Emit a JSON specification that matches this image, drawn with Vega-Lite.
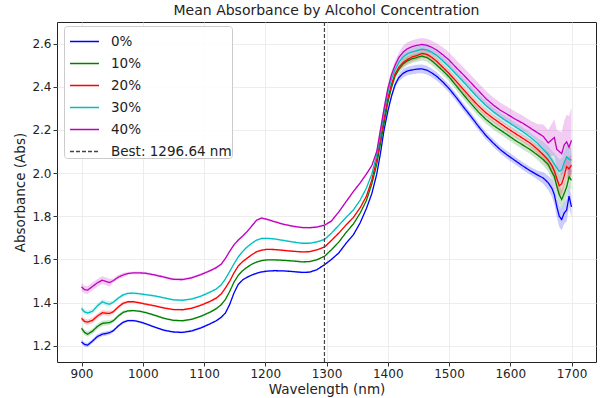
{
"$schema":"https://vega.github.io/schema/vega-lite/v6.json",
"width":539,"height":340,
"autosize":{"type":"none"},
"padding":{"left":57,"top":22,"right":6,"bottom":36},
"background":"white",
"title":{"text":"Mean Absorbance by Alcohol Concentration","fontSize":14,"font":"DejaVu Sans","fontWeight":"normal","offset":3,"anchor":"middle","color":"#222"},
"config":{
 "view":{"stroke":"#222","strokeWidth":1},
 "axis":{"labelFont":"DejaVu Sans","titleFont":"DejaVu Sans","labelFontSize":12,"titleFontSize":13.5,"titleFontWeight":"normal","labelColor":"#222","titleColor":"#222","tickColor":"#333","tickSize":4,"gridColor":"#e8e8e8","gridWidth":0.8,"domain":false},
 "legend":{"labelFont":"DejaVu Sans"}
},
"datasets":{"spec":[
{"w":900,"b":1.218,"bl":1.208,"bh":1.228,"g":1.281,"gl":1.269,"gh":1.293,"r":1.327,"rl":1.315,"rh":1.339,"c":1.373,"cl":1.361,"ch":1.385,"m":1.473,"ml":1.455,"mh":1.491},
{"w":905,"b":1.206,"bl":1.196,"bh":1.216,"g":1.262,"gl":1.250,"gh":1.274,"r":1.313,"rl":1.301,"rh":1.325,"c":1.357,"cl":1.345,"ch":1.369,"m":1.460,"ml":1.442,"mh":1.478},
{"w":910,"b":1.203,"bl":1.193,"bh":1.213,"g":1.254,"gl":1.242,"gh":1.266,"r":1.310,"rl":1.298,"rh":1.322,"c":1.352,"cl":1.340,"ch":1.364,"m":1.458,"ml":1.440,"mh":1.476},
{"w":918,"b":1.222,"bl":1.212,"bh":1.232,"g":1.268,"gl":1.256,"gh":1.280,"r":1.318,"rl":1.306,"rh":1.330,"c":1.360,"cl":1.348,"ch":1.372,"m":1.475,"ml":1.457,"mh":1.493},
{"w":926,"b":1.243,"bl":1.233,"bh":1.253,"g":1.290,"gl":1.278,"gh":1.302,"r":1.338,"rl":1.326,"rh":1.350,"c":1.385,"cl":1.373,"ch":1.397,"m":1.492,"ml":1.474,"mh":1.510},
{"w":934,"b":1.254,"bl":1.244,"bh":1.264,"g":1.304,"gl":1.292,"gh":1.316,"r":1.353,"rl":1.341,"rh":1.365,"c":1.404,"cl":1.392,"ch":1.416,"m":1.504,"ml":1.486,"mh":1.522},
{"w":940,"b":1.257,"bl":1.247,"bh":1.267,"g":1.306,"gl":1.294,"gh":1.318,"r":1.351,"rl":1.339,"rh":1.363,"c":1.397,"cl":1.385,"ch":1.409,"m":1.498,"ml":1.480,"mh":1.516},
{"w":946,"b":1.261,"bl":1.251,"bh":1.271,"g":1.308,"gl":1.296,"gh":1.320,"r":1.350,"rl":1.338,"rh":1.362,"c":1.393,"cl":1.381,"ch":1.405,"m":1.493,"ml":1.475,"mh":1.511},
{"w":952,"b":1.270,"bl":1.263,"bh":1.277,"g":1.316,"gl":1.308,"gh":1.324,"r":1.358,"rl":1.350,"rh":1.366,"c":1.402,"cl":1.394,"ch":1.410,"m":1.502,"ml":1.492,"mh":1.512},
{"w":960,"b":1.292,"bl":1.285,"bh":1.299,"g":1.338,"gl":1.330,"gh":1.346,"r":1.380,"rl":1.372,"rh":1.388,"c":1.421,"cl":1.413,"ch":1.429,"m":1.518,"ml":1.508,"mh":1.528},
{"w":968,"b":1.309,"bl":1.302,"bh":1.316,"g":1.355,"gl":1.347,"gh":1.363,"r":1.397,"rl":1.389,"rh":1.405,"c":1.436,"cl":1.428,"ch":1.444,"m":1.528,"ml":1.518,"mh":1.538},
{"w":976,"b":1.317,"bl":1.312,"bh":1.322,"g":1.362,"gl":1.357,"gh":1.367,"r":1.404,"rl":1.399,"rh":1.409,"c":1.443,"cl":1.438,"ch":1.448,"m":1.535,"ml":1.529,"mh":1.541},
{"w":985,"b":1.317,"bl":1.312,"bh":1.322,"g":1.363,"gl":1.358,"gh":1.368,"r":1.404,"rl":1.399,"rh":1.409,"c":1.444,"cl":1.439,"ch":1.449,"m":1.538,"ml":1.532,"mh":1.544},
{"w":995,"b":1.311,"bl":1.306,"bh":1.316,"g":1.360,"gl":1.355,"gh":1.365,"r":1.399,"rl":1.394,"rh":1.404,"c":1.441,"cl":1.436,"ch":1.446,"m":1.538,"ml":1.532,"mh":1.544},
{"w":1005,"b":1.302,"bl":1.297,"bh":1.307,"g":1.354,"gl":1.349,"gh":1.359,"r":1.393,"rl":1.388,"rh":1.398,"c":1.437,"cl":1.432,"ch":1.442,"m":1.536,"ml":1.530,"mh":1.542},
{"w":1020,"b":1.286,"bl":1.281,"bh":1.291,"g":1.341,"gl":1.336,"gh":1.346,"r":1.385,"rl":1.380,"rh":1.390,"c":1.431,"cl":1.426,"ch":1.436,"m":1.528,"ml":1.522,"mh":1.534},
{"w":1035,"b":1.272,"bl":1.267,"bh":1.277,"g":1.327,"gl":1.322,"gh":1.332,"r":1.375,"rl":1.370,"rh":1.380,"c":1.422,"cl":1.417,"ch":1.427,"m":1.518,"ml":1.512,"mh":1.524},
{"w":1050,"b":1.264,"bl":1.259,"bh":1.269,"g":1.318,"gl":1.313,"gh":1.323,"r":1.368,"rl":1.363,"rh":1.373,"c":1.413,"cl":1.408,"ch":1.418,"m":1.508,"ml":1.502,"mh":1.514},
{"w":1065,"b":1.262,"bl":1.257,"bh":1.267,"g":1.316,"gl":1.311,"gh":1.321,"r":1.367,"rl":1.362,"rh":1.372,"c":1.411,"cl":1.406,"ch":1.416,"m":1.507,"ml":1.501,"mh":1.513},
{"w":1080,"b":1.269,"bl":1.264,"bh":1.274,"g":1.323,"gl":1.318,"gh":1.328,"r":1.374,"rl":1.369,"rh":1.379,"c":1.417,"cl":1.412,"ch":1.422,"m":1.515,"ml":1.509,"mh":1.521},
{"w":1095,"b":1.283,"bl":1.278,"bh":1.288,"g":1.337,"gl":1.332,"gh":1.342,"r":1.388,"rl":1.383,"rh":1.393,"c":1.430,"cl":1.425,"ch":1.435,"m":1.530,"ml":1.524,"mh":1.536},
{"w":1110,"b":1.302,"bl":1.297,"bh":1.307,"g":1.356,"gl":1.351,"gh":1.361,"r":1.406,"rl":1.401,"rh":1.411,"c":1.449,"cl":1.444,"ch":1.454,"m":1.548,"ml":1.542,"mh":1.554},
{"w":1120,"b":1.316,"bl":1.311,"bh":1.321,"g":1.372,"gl":1.367,"gh":1.377,"r":1.421,"rl":1.416,"rh":1.426,"c":1.463,"cl":1.458,"ch":1.468,"m":1.562,"ml":1.556,"mh":1.568},
{"w":1128,"b":1.332,"bl":1.327,"bh":1.337,"g":1.390,"gl":1.385,"gh":1.395,"r":1.440,"rl":1.435,"rh":1.445,"c":1.482,"cl":1.477,"ch":1.487,"m":1.578,"ml":1.572,"mh":1.584},
{"w":1135,"b":1.352,"bl":1.348,"bh":1.356,"g":1.415,"gl":1.411,"gh":1.419,"r":1.468,"rl":1.464,"rh":1.472,"c":1.510,"cl":1.506,"ch":1.514,"m":1.605,"ml":1.600,"mh":1.610},
{"w":1142,"b":1.392,"bl":1.388,"bh":1.396,"g":1.452,"gl":1.448,"gh":1.456,"r":1.500,"rl":1.496,"rh":1.504,"c":1.545,"cl":1.541,"ch":1.549,"m":1.638,"ml":1.633,"mh":1.643},
{"w":1149,"b":1.445,"bl":1.441,"bh":1.449,"g":1.495,"gl":1.491,"gh":1.499,"r":1.538,"rl":1.534,"rh":1.542,"c":1.580,"cl":1.576,"ch":1.584,"m":1.668,"ml":1.663,"mh":1.673},
{"w":1156,"b":1.485,"bl":1.481,"bh":1.489,"g":1.527,"gl":1.523,"gh":1.531,"r":1.570,"rl":1.566,"rh":1.574,"c":1.612,"cl":1.608,"ch":1.616,"m":1.690,"ml":1.685,"mh":1.695},
{"w":1163,"b":1.505,"bl":1.501,"bh":1.509,"g":1.548,"gl":1.544,"gh":1.552,"r":1.590,"rl":1.586,"rh":1.594,"c":1.637,"cl":1.633,"ch":1.641,"m":1.708,"ml":1.703,"mh":1.713},
{"w":1170,"b":1.517,"bl":1.513,"bh":1.521,"g":1.563,"gl":1.559,"gh":1.567,"r":1.605,"rl":1.601,"rh":1.609,"c":1.657,"cl":1.653,"ch":1.661,"m":1.728,"ml":1.723,"mh":1.733},
{"w":1178,"b":1.528,"bl":1.524,"bh":1.532,"g":1.578,"gl":1.574,"gh":1.582,"r":1.622,"rl":1.618,"rh":1.626,"c":1.675,"cl":1.671,"ch":1.679,"m":1.755,"ml":1.750,"mh":1.760},
{"w":1186,"b":1.536,"bl":1.532,"bh":1.540,"g":1.588,"gl":1.584,"gh":1.592,"r":1.636,"rl":1.632,"rh":1.640,"c":1.690,"cl":1.686,"ch":1.694,"m":1.782,"ml":1.777,"mh":1.787},
{"w":1194,"b":1.542,"bl":1.538,"bh":1.546,"g":1.595,"gl":1.591,"gh":1.599,"r":1.643,"rl":1.639,"rh":1.647,"c":1.697,"cl":1.693,"ch":1.701,"m":1.792,"ml":1.787,"mh":1.797},
{"w":1203,"b":1.546,"bl":1.542,"bh":1.550,"g":1.598,"gl":1.594,"gh":1.602,"r":1.647,"rl":1.643,"rh":1.651,"c":1.698,"cl":1.694,"ch":1.702,"m":1.786,"ml":1.781,"mh":1.791},
{"w":1215,"b":1.548,"bl":1.544,"bh":1.552,"g":1.598,"gl":1.594,"gh":1.602,"r":1.646,"rl":1.642,"rh":1.650,"c":1.695,"cl":1.691,"ch":1.699,"m":1.775,"ml":1.770,"mh":1.780},
{"w":1230,"b":1.547,"bl":1.543,"bh":1.551,"g":1.596,"gl":1.592,"gh":1.600,"r":1.642,"rl":1.638,"rh":1.646,"c":1.688,"cl":1.684,"ch":1.692,"m":1.763,"ml":1.758,"mh":1.768},
{"w":1245,"b":1.544,"bl":1.540,"bh":1.548,"g":1.593,"gl":1.589,"gh":1.597,"r":1.638,"rl":1.634,"rh":1.642,"c":1.681,"cl":1.677,"ch":1.685,"m":1.754,"ml":1.749,"mh":1.759},
{"w":1260,"b":1.540,"bl":1.536,"bh":1.544,"g":1.589,"gl":1.585,"gh":1.593,"r":1.635,"rl":1.631,"rh":1.639,"c":1.675,"cl":1.671,"ch":1.679,"m":1.748,"ml":1.743,"mh":1.753},
{"w":1272,"b":1.541,"bl":1.537,"bh":1.545,"g":1.590,"gl":1.586,"gh":1.594,"r":1.636,"rl":1.632,"rh":1.640,"c":1.675,"cl":1.671,"ch":1.679,"m":1.747,"ml":1.742,"mh":1.752},
{"w":1284,"b":1.552,"bl":1.548,"bh":1.556,"g":1.598,"gl":1.594,"gh":1.602,"r":1.644,"rl":1.640,"rh":1.648,"c":1.681,"cl":1.677,"ch":1.685,"m":1.750,"ml":1.745,"mh":1.755},
{"w":1297,"b":1.576,"bl":1.572,"bh":1.580,"g":1.615,"gl":1.611,"gh":1.619,"r":1.658,"rl":1.654,"rh":1.662,"c":1.693,"cl":1.689,"ch":1.697,"m":1.759,"ml":1.754,"mh":1.764},
{"w":1308,"b":1.600,"bl":1.596,"bh":1.604,"g":1.645,"gl":1.641,"gh":1.649,"r":1.688,"rl":1.684,"rh":1.692,"c":1.722,"cl":1.718,"ch":1.726,"m":1.778,"ml":1.773,"mh":1.783},
{"w":1320,"b":1.630,"bl":1.626,"bh":1.634,"g":1.680,"gl":1.676,"gh":1.684,"r":1.722,"rl":1.718,"rh":1.726,"c":1.758,"cl":1.754,"ch":1.762,"m":1.820,"ml":1.815,"mh":1.825},
{"w":1332,"b":1.675,"bl":1.671,"bh":1.679,"g":1.725,"gl":1.721,"gh":1.729,"r":1.760,"rl":1.756,"rh":1.764,"c":1.795,"cl":1.791,"ch":1.799,"m":1.868,"ml":1.863,"mh":1.873},
{"w":1344,"b":1.715,"bl":1.711,"bh":1.719,"g":1.765,"gl":1.761,"gh":1.769,"r":1.795,"rl":1.791,"rh":1.799,"c":1.830,"cl":1.826,"ch":1.834,"m":1.915,"ml":1.910,"mh":1.920},
{"w":1355,"b":1.770,"bl":1.766,"bh":1.774,"g":1.815,"gl":1.811,"gh":1.819,"r":1.840,"rl":1.836,"rh":1.844,"c":1.875,"cl":1.871,"ch":1.879,"m":1.955,"ml":1.950,"mh":1.960},
{"w":1365,"b":1.835,"bl":1.831,"bh":1.839,"g":1.872,"gl":1.868,"gh":1.876,"r":1.892,"rl":1.888,"rh":1.896,"c":1.930,"cl":1.926,"ch":1.934,"m":1.995,"ml":1.990,"mh":2.000},
{"w":1374,"b":1.905,"bl":1.901,"bh":1.909,"g":1.950,"gl":1.946,"gh":1.954,"r":1.968,"rl":1.964,"rh":1.972,"c":1.995,"cl":1.991,"ch":1.999,"m":2.035,"ml":2.030,"mh":2.040},
{"w":1382,"b":1.995,"bl":1.990,"bh":2.000,"g":2.040,"gl":2.035,"gh":2.045,"r":2.065,"rl":2.060,"rh":2.070,"c":2.085,"cl":2.080,"ch":2.090,"m":2.100,"ml":2.094,"mh":2.106},
{"w":1388,"b":2.090,"bl":2.082,"bh":2.098,"g":2.135,"gl":2.127,"gh":2.143,"r":2.160,"rl":2.152,"rh":2.168,"c":2.180,"cl":2.172,"ch":2.188,"m":2.200,"ml":2.190,"mh":2.210},
{"w":1394,"b":2.200,"bl":2.190,"bh":2.210,"g":2.230,"gl":2.220,"gh":2.240,"r":2.255,"rl":2.245,"rh":2.265,"c":2.280,"cl":2.270,"ch":2.290,"m":2.300,"ml":2.285,"mh":2.315},
{"w":1400,"b":2.285,"bl":2.275,"bh":2.295,"g":2.325,"gl":2.315,"gh":2.335,"r":2.345,"rl":2.335,"rh":2.355,"c":2.370,"cl":2.360,"ch":2.380,"m":2.390,"ml":2.375,"mh":2.405},
{"w":1406,"b":2.355,"bl":2.343,"bh":2.367,"g":2.395,"gl":2.383,"gh":2.407,"r":2.410,"rl":2.398,"rh":2.422,"c":2.435,"cl":2.423,"ch":2.447,"m":2.455,"ml":2.437,"mh":2.473},
{"w":1412,"b":2.410,"bl":2.396,"bh":2.424,"g":2.450,"gl":2.436,"gh":2.464,"r":2.460,"rl":2.446,"rh":2.474,"c":2.480,"cl":2.466,"ch":2.494,"m":2.500,"ml":2.480,"mh":2.520},
{"w":1418,"b":2.442,"bl":2.426,"bh":2.458,"g":2.480,"gl":2.464,"gh":2.496,"r":2.490,"rl":2.474,"rh":2.506,"c":2.512,"cl":2.496,"ch":2.528,"m":2.535,"ml":2.512,"mh":2.558},
{"w":1425,"b":2.462,"bl":2.442,"bh":2.482,"g":2.505,"gl":2.485,"gh":2.525,"r":2.512,"rl":2.492,"rh":2.532,"c":2.538,"cl":2.518,"ch":2.558,"m":2.560,"ml":2.530,"mh":2.590},
{"w":1432,"b":2.473,"bl":2.453,"bh":2.493,"g":2.520,"gl":2.500,"gh":2.540,"r":2.526,"rl":2.506,"rh":2.546,"c":2.553,"cl":2.533,"ch":2.573,"m":2.576,"ml":2.546,"mh":2.606},
{"w":1440,"b":2.478,"bl":2.458,"bh":2.498,"g":2.530,"gl":2.510,"gh":2.550,"r":2.538,"rl":2.518,"rh":2.558,"c":2.562,"cl":2.542,"ch":2.582,"m":2.586,"ml":2.556,"mh":2.616},
{"w":1448,"b":2.482,"bl":2.462,"bh":2.502,"g":2.536,"gl":2.516,"gh":2.556,"r":2.545,"rl":2.525,"rh":2.565,"c":2.568,"cl":2.548,"ch":2.588,"m":2.592,"ml":2.562,"mh":2.622},
{"w":1456,"b":2.483,"bl":2.463,"bh":2.503,"g":2.542,"gl":2.522,"gh":2.562,"r":2.554,"rl":2.534,"rh":2.574,"c":2.574,"cl":2.554,"ch":2.594,"m":2.596,"ml":2.566,"mh":2.626},
{"w":1464,"b":2.477,"bl":2.457,"bh":2.497,"g":2.536,"gl":2.516,"gh":2.556,"r":2.550,"rl":2.530,"rh":2.570,"c":2.571,"cl":2.551,"ch":2.591,"m":2.592,"ml":2.562,"mh":2.622},
{"w":1472,"b":2.464,"bl":2.444,"bh":2.484,"g":2.520,"gl":2.500,"gh":2.540,"r":2.536,"rl":2.516,"rh":2.556,"c":2.560,"cl":2.540,"ch":2.580,"m":2.583,"ml":2.553,"mh":2.613},
{"w":1480,"b":2.448,"bl":2.428,"bh":2.468,"g":2.500,"gl":2.480,"gh":2.520,"r":2.518,"rl":2.498,"rh":2.538,"c":2.545,"cl":2.525,"ch":2.565,"m":2.570,"ml":2.540,"mh":2.600},
{"w":1490,"b":2.422,"bl":2.404,"bh":2.440,"g":2.474,"gl":2.454,"gh":2.494,"r":2.490,"rl":2.472,"rh":2.508,"c":2.520,"cl":2.500,"ch":2.540,"m":2.548,"ml":2.513,"mh":2.583},
{"w":1500,"b":2.392,"bl":2.374,"bh":2.410,"g":2.446,"gl":2.426,"gh":2.466,"r":2.462,"rl":2.444,"rh":2.480,"c":2.493,"cl":2.473,"ch":2.513,"m":2.524,"ml":2.489,"mh":2.559},
{"w":1512,"b":2.350,"bl":2.332,"bh":2.368,"g":2.404,"gl":2.384,"gh":2.424,"r":2.425,"rl":2.407,"rh":2.443,"c":2.457,"cl":2.437,"ch":2.477,"m":2.488,"ml":2.453,"mh":2.523},
{"w":1524,"b":2.305,"bl":2.287,"bh":2.323,"g":2.362,"gl":2.342,"gh":2.382,"r":2.386,"rl":2.368,"rh":2.404,"c":2.421,"cl":2.401,"ch":2.441,"m":2.454,"ml":2.419,"mh":2.489},
{"w":1536,"b":2.262,"bl":2.244,"bh":2.280,"g":2.322,"gl":2.302,"gh":2.342,"r":2.348,"rl":2.330,"rh":2.366,"c":2.384,"cl":2.364,"ch":2.404,"m":2.418,"ml":2.383,"mh":2.453},
{"w":1548,"b":2.217,"bl":2.199,"bh":2.235,"g":2.283,"gl":2.263,"gh":2.303,"r":2.312,"rl":2.294,"rh":2.330,"c":2.347,"cl":2.327,"ch":2.367,"m":2.382,"ml":2.347,"mh":2.417},
{"w":1560,"b":2.175,"bl":2.157,"bh":2.193,"g":2.250,"gl":2.230,"gh":2.270,"r":2.280,"rl":2.262,"rh":2.298,"c":2.314,"cl":2.294,"ch":2.334,"m":2.346,"ml":2.311,"mh":2.381},
{"w":1572,"b":2.140,"bl":2.122,"bh":2.158,"g":2.222,"gl":2.202,"gh":2.242,"r":2.254,"rl":2.236,"rh":2.272,"c":2.285,"cl":2.265,"ch":2.305,"m":2.316,"ml":2.281,"mh":2.351},
{"w":1584,"b":2.108,"bl":2.090,"bh":2.126,"g":2.199,"gl":2.179,"gh":2.219,"r":2.230,"rl":2.212,"rh":2.248,"c":2.260,"cl":2.240,"ch":2.280,"m":2.291,"ml":2.256,"mh":2.326},
{"w":1596,"b":2.082,"bl":2.064,"bh":2.100,"g":2.176,"gl":2.156,"gh":2.196,"r":2.206,"rl":2.188,"rh":2.224,"c":2.237,"cl":2.217,"ch":2.257,"m":2.271,"ml":2.236,"mh":2.306},
{"w":1608,"b":2.058,"bl":2.040,"bh":2.076,"g":2.152,"gl":2.132,"gh":2.172,"r":2.184,"rl":2.166,"rh":2.202,"c":2.215,"cl":2.195,"ch":2.235,"m":2.250,"ml":2.215,"mh":2.285},
{"w":1620,"b":2.034,"bl":2.016,"bh":2.052,"g":2.131,"gl":2.111,"gh":2.151,"r":2.162,"rl":2.144,"rh":2.180,"c":2.193,"cl":2.173,"ch":2.213,"m":2.232,"ml":2.197,"mh":2.267},
{"w":1632,"b":2.012,"bl":1.994,"bh":2.030,"g":2.110,"gl":2.090,"gh":2.130,"r":2.140,"rl":2.122,"rh":2.158,"c":2.168,"cl":2.148,"ch":2.188,"m":2.210,"ml":2.175,"mh":2.245},
{"w":1644,"b":1.992,"bl":1.972,"bh":2.012,"g":2.085,"gl":2.063,"gh":2.107,"r":2.112,"rl":2.092,"rh":2.132,"c":2.140,"cl":2.118,"ch":2.162,"m":2.188,"ml":2.148,"mh":2.228},
{"w":1654,"b":1.977,"bl":1.950,"bh":2.004,"g":2.062,"gl":2.034,"gh":2.090,"r":2.085,"rl":2.055,"rh":2.115,"c":2.110,"cl":2.075,"ch":2.145,"m":2.170,"ml":2.115,"mh":2.225},
{"w":1662,"b":1.955,"bl":1.922,"bh":1.988,"g":2.040,"gl":2.008,"gh":2.072,"r":2.060,"rl":2.025,"rh":2.095,"c":2.085,"cl":2.045,"ch":2.125,"m":2.140,"ml":2.080,"mh":2.200},
{"w":1668,"b":1.930,"bl":1.890,"bh":1.970,"g":2.005,"gl":1.968,"gh":2.042,"r":2.035,"rl":1.995,"rh":2.075,"c":2.060,"cl":2.015,"ch":2.105,"m":2.155,"ml":2.080,"mh":2.230},
{"w":1672,"b":1.900,"bl":1.855,"bh":1.945,"g":1.985,"gl":1.945,"gh":2.025,"r":2.010,"rl":1.965,"rh":2.055,"c":2.042,"cl":1.992,"ch":2.092,"m":2.165,"ml":2.080,"mh":2.250},
{"w":1676,"b":1.845,"bl":1.797,"bh":1.893,"g":1.940,"gl":1.895,"gh":1.985,"r":1.975,"rl":1.925,"rh":2.025,"c":2.025,"cl":1.972,"ch":2.078,"m":2.110,"ml":2.020,"mh":2.200},
{"w":1680,"b":1.800,"bl":1.750,"bh":1.850,"g":1.900,"gl":1.855,"gh":1.945,"r":1.942,"rl":1.892,"rh":1.992,"c":2.008,"cl":1.953,"ch":2.063,"m":2.100,"ml":2.005,"mh":2.195},
{"w":1684,"b":1.785,"bl":1.735,"bh":1.835,"g":1.878,"gl":1.833,"gh":1.923,"r":1.950,"rl":1.900,"rh":2.000,"c":2.015,"cl":1.960,"ch":2.070,"m":2.090,"ml":1.990,"mh":2.190},
{"w":1688,"b":1.815,"bl":1.765,"bh":1.865,"g":1.905,"gl":1.860,"gh":1.950,"r":1.985,"rl":1.935,"rh":2.035,"c":2.048,"cl":1.993,"ch":2.103,"m":2.130,"ml":2.020,"mh":2.240},
{"w":1692,"b":1.828,"bl":1.776,"bh":1.880,"g":1.935,"gl":1.888,"gh":1.982,"r":2.030,"rl":1.978,"rh":2.082,"c":2.075,"cl":2.018,"ch":2.132,"m":2.145,"ml":2.020,"mh":2.270},
{"w":1696,"b":1.893,"bl":1.843,"bh":1.943,"g":1.982,"gl":1.935,"gh":2.029,"r":2.020,"rl":1.968,"rh":2.072,"c":2.065,"cl":2.008,"ch":2.122,"m":2.120,"ml":1.975,"mh":2.265},
{"w":1700,"b":1.844,"bl":1.794,"bh":1.894,"g":1.967,"gl":1.920,"gh":2.014,"r":2.037,"rl":1.985,"rh":2.089,"c":2.060,"cl":2.003,"ch":2.117,"m":2.152,"ml":2.000,"mh":2.304}
]},
"data":{"name":"spec"},
"encoding":{
 "x":{"field":"w","type":"quantitative","scale":{"domain":[860,1740],"nice":false,"zero":false},"axis":{"values":[900,1000,1100,1200,1300,1400,1500,1600,1700],"format":"d","title":"Wavelength (nm)","labelPadding":2,"titlePadding":3,"grid":true}}
},
"layer":[
 {"mark":{"type":"area","color":"#0000ff","opacity":0.2},"encoding":{"y":{"field":"bl","type":"quantitative","scale":{"domain":[1.125,2.7],"nice":false,"zero":false},"axis":{"values":[1.2,1.4,1.6,1.8,2.0,2.2,2.4,2.6],"format":".1f","title":"Absorbance (Abs)","labelPadding":2,"titlePadding":4,"grid":true}},"y2":{"field":"bh"}}},
 {"mark":{"type":"area","color":"#008000","opacity":0.2},"encoding":{"y":{"field":"gl","type":"quantitative"},"y2":{"field":"gh"}}},
 {"mark":{"type":"area","color":"#ff0000","opacity":0.2},"encoding":{"y":{"field":"rl","type":"quantitative"},"y2":{"field":"rh"}}},
 {"mark":{"type":"area","color":"#00bfbf","opacity":0.2},"encoding":{"y":{"field":"cl","type":"quantitative"},"y2":{"field":"ch"}}},
 {"mark":{"type":"area","color":"#bf00bf","opacity":0.2},"encoding":{"y":{"field":"ml","type":"quantitative"},"y2":{"field":"mh"}}},
 {"mark":{"type":"line","strokeWidth":1.3},"encoding":{"y":{"field":"b","type":"quantitative"},
   "color":{"datum":"0%","type":"nominal","scale":{"domain":["0%","10%","20%","30%","40%","Best: 1296.64 nm"],"range":["#0000ff","#008000","#ff0000","#00bfbf","#bf00bf","#444444"]},
     "legend":{"title":null,"orient":"none","legendX":7,"legendY":4,"symbolType":"stroke","symbolSize":841,"symbolStrokeWidth":1.5,"symbolOffset":5,"labelFontSize":13.5,"labelColor":"#222","labelOffset":11,"rowPadding":-2.9,"padding":0,"fillColor":"rgba(255,255,255,0.85)","strokeColor":"#cccccc","cornerRadius":3}},
   "strokeDash":{"datum":"0%","type":"nominal","scale":{"domain":["0%","10%","20%","30%","40%","Best: 1296.64 nm"],"range":[[1,0],[1,0],[1,0],[1,0],[1,0],[4,2]]}}}},
 {"mark":{"type":"line","strokeWidth":1.3},"encoding":{"y":{"field":"g","type":"quantitative"},"color":{"datum":"10%","type":"nominal"},"strokeDash":{"datum":"10%","type":"nominal"}}},
 {"mark":{"type":"line","strokeWidth":1.3},"encoding":{"y":{"field":"r","type":"quantitative"},"color":{"datum":"20%","type":"nominal"},"strokeDash":{"datum":"20%","type":"nominal"}}},
 {"mark":{"type":"line","strokeWidth":1.3},"encoding":{"y":{"field":"c","type":"quantitative"},"color":{"datum":"30%","type":"nominal"},"strokeDash":{"datum":"30%","type":"nominal"}}},
 {"mark":{"type":"line","strokeWidth":1.3},"encoding":{"y":{"field":"m","type":"quantitative"},"color":{"datum":"40%","type":"nominal"},"strokeDash":{"datum":"40%","type":"nominal"}}},
 {"data":{"values":[{"best":1296.64}]},"mark":{"type":"rule","strokeWidth":1.2},"encoding":{"x":{"field":"best","type":"quantitative"},"color":{"datum":"Best: 1296.64 nm","type":"nominal"},"strokeDash":{"datum":"Best: 1296.64 nm","type":"nominal"}}}
]
}
